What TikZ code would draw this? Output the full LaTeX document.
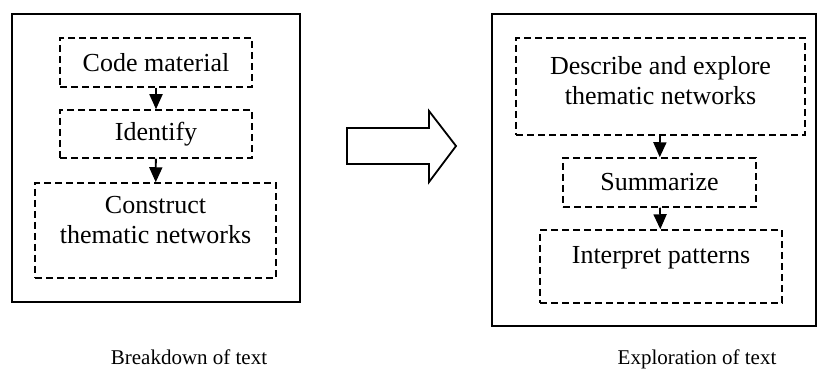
\documentclass[tikz,border=0pt]{standalone}
\usepackage{fontspec}
\setmainfont{Liberation Serif}
\usetikzlibrary{arrows.meta}

\begin{document}
\begin{tikzpicture}[x=1pt,y=-1pt,
    panel/.style={draw,line width=1.8pt},
    stage/.style={draw,line width=1.5pt,dash pattern=on 7pt off 4pt,
      align=center,inner sep=0pt,font=\fontsize{26}{30}\selectfont},
    flow/.style={line width=1.8pt,-{Triangle[length=15pt,width=13pt]}},
    caption/.style={anchor=base,font=\fontsize{21}{24}\selectfont}]
  \useasboundingbox (0,0) rectangle (817,371);

  % breakdown panel
  \draw [panel] (12,14) rectangle (300,302);
  \node [stage,minimum width=192pt,minimum height=49pt] (code)
    at (156,62.5) {Code material};
  \node [stage,minimum width=192pt,minimum height=48pt] (ident)
    at (156,134) {Identify};
  \node [stage,minimum width=241pt,minimum height=95pt,text depth=21pt] (construct)
    at (155.5,230.5) {Construct\\thematic networks};
  \draw [flow] (code) -- (ident);
  \draw [flow] (ident) -- (construct);
  \node [caption] (lcap) at (189,365) {Breakdown of text};

  % big arrow between the panels
  \draw [line width=1.8pt] (347,128) -- (429,128) -- (429,111) -- (456,146)
    -- (429,182) -- (429,164) -- (347,164) -- cycle;

  % exploration panel
  \draw [panel] (492,14) rectangle (816,326);
  \node [stage,minimum width=289pt,minimum height=97pt,text depth=12pt] (describe)
    at (660.5,86.5) {Describe and explore\\thematic networks};
  \node [stage,minimum width=193pt,minimum height=49pt] (summ)
    at (659.5,182.5) {Summarize};
  \node [stage,minimum width=242pt,minimum height=73pt,text depth=24pt] (interp)
    at (661,266.5) {Interpret patterns};
  \draw [flow] (describe) -- (summ);
  \draw [flow] (summ) -- (interp);
  \node [caption] (rcap) at (697,365) {Exploration of text};
\end{tikzpicture}
\end{document}
